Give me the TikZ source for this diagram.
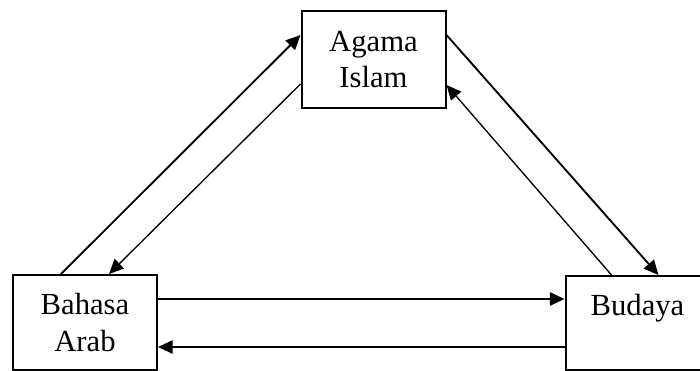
\documentclass[tikz,border=0pt]{standalone}
\usepackage{fontspec}
\setmainfont{Liberation Serif}
\usetikzlibrary{arrows.meta,calc}
\begin{document}
\begin{tikzpicture}[x=0.75pt,y=-0.75pt,
  box/.style={draw,line width=1.5pt,rectangle,inner sep=0pt,align=center,
    minimum width=108pt,font=\fontsize{23pt}{27.5pt}\selectfont},
  thickarr/.style={line width=1.4pt,-{Triangle[length=11pt,width=10pt]}},
  thinarr/.style={line width=1pt,-{Triangle[length=11pt,width=10pt]}}]
\useasboundingbox (0,0) rectangle (700,371);
\clip (0,0) rectangle (700,371);
\node[box,minimum height=72.75pt] (agama) at (373.5,59.5) {Agama\\Islam};
\node[box,minimum height=71.25pt] (bahasa) at (85,322.5) {Bahasa\\Arab};
\node[box,minimum height=70.5pt] (budaya) at (637.5,323) {Budaya\\\phantom{A}};
\draw[thickarr] ($(bahasa.north west)+(49,0)$) -- ($(agama.north west)+(0,25)$);
\draw[thinarr] ($(agama.north west)+(0,74)$) -- ($(bahasa.north west)+(97,0)$);
\draw[thickarr] ($(agama.north east)+(0,25)$) -- ($(budaya.north west)+(94,0)$);
\draw[thinarr] ($(budaya.north west)+(47,0)$) -- ($(agama.north east)+(0,75)$);
\draw[thickarr] ($(bahasa.north east)+(0,25)$) -- ($(budaya.north west)+(0,24)$);
\draw[thickarr] ($(budaya.north west)+(0,72)$) -- ($(bahasa.north east)+(0,73)$);
\end{tikzpicture}
\end{document}
